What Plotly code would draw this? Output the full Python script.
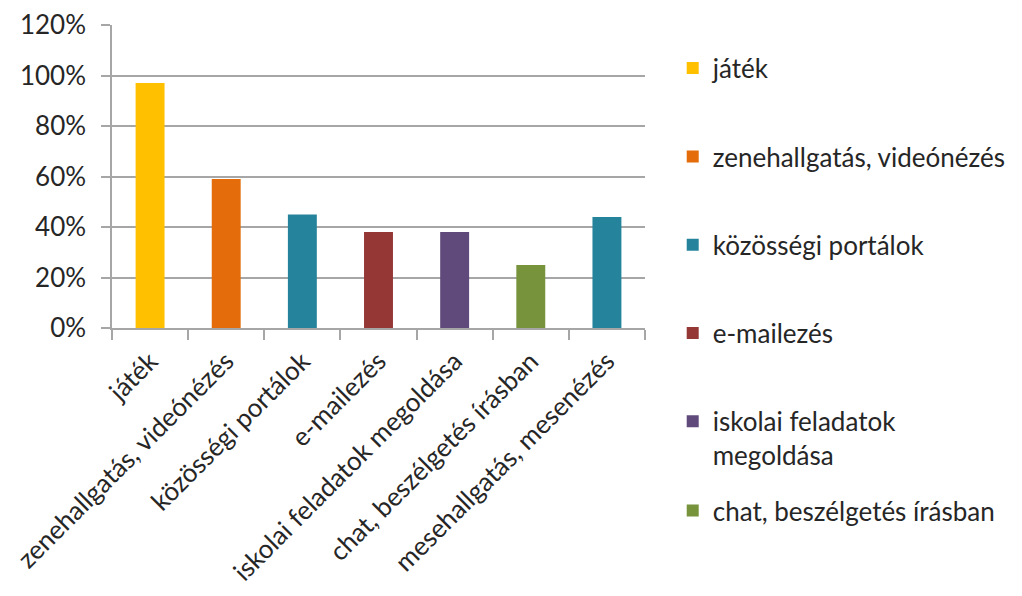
import plotly.graph_objects as go

categories = ["játék", "zenehallgatás, videónézés", "közösségi portálok", "e-mailezés",
              "iskolai feladatok megoldása", "chat, beszélgetés írásban", "mesehallgatás, mesenézés"]
values = [0.97, 0.59, 0.45, 0.38, 0.38, 0.25, 0.44]
legend_names = ["játék", "zenehallgatás, videónézés", "közösségi portálok", "e-mailezés",
                "iskolai feladatok<br>megoldása", "chat, beszélgetés írásban", None]
colors = ["#FFC000", "#E46C0A", "#25849C", "#953735", "#604A7B", "#77933C", "#25849C"]
y_ticks = [0, 0.2, 0.4, 0.6, 0.8, 1.0, 1.2]
y_tick_labels = ["0%", "20%", "40%", "60%", "80%", "100%", "120%"]

FONT = "Lato"
TXT = "#262626"
fig = go.Figure()
for i, (c, v) in enumerate(zip(categories, values)):
    name = legend_names[i]
    fig.add_trace(go.Bar(
        x=[c], y=[v], name=name if name else c,
        marker=dict(color=colors[i], line=dict(width=0)),
        width=0.38, showlegend=name is not None,
        legendgroup=f"g{i}",
        legend="legend2" if i == 5 else "legend",
    ))

legend_common = dict(xanchor="left", yanchor="top",
                     font=dict(size=26, family=FONT, color=TXT),
                     valign="top", maxheight=700, bgcolor="rgba(0,0,0,0)")

fig.update_layout(
    width=1022, height=596,
    margin=dict(l=104, r=385, t=17, b=276, autoexpand=False),
    paper_bgcolor="white", plot_bgcolor="white",
    barmode="overlay",
    font=dict(family=FONT, color=TXT),
    legend=dict(x=1.052, y=0.935, tracegroupgap=51.5, **legend_common),
    legend2=dict(x=1.052, y=-0.525, **legend_common),
    xaxis=dict(
        type="category", categoryorder="array", categoryarray=categories,
        showline=True, linecolor="#a6a6a6", linewidth=1.5,
        ticks="outside", tickson="boundaries", ticklen=10, tickcolor="#a6a6a6", tickwidth=1.5,
        tickangle=-45, tickfont=dict(size=26, family=FONT, color=TXT),
        ticklabelstandoff=6,
        showgrid=False, automargin=False,
    ),
    yaxis=dict(
        range=[0, 1.2], tickvals=y_ticks, ticktext=y_tick_labels,
        showline=True, linecolor="#a6a6a6", linewidth=1.5,
        ticks="outside", ticklen=9, tickcolor="#a6a6a6", tickwidth=1.5,
        showgrid=True, gridcolor="#a6a6a6", gridwidth=1.5,
        tickfont=dict(size=26, family=FONT, color=TXT),
        ticklabelstandoff=10,
        zeroline=False, automargin=False,
    ),
)

fig.write_html("out.html")
